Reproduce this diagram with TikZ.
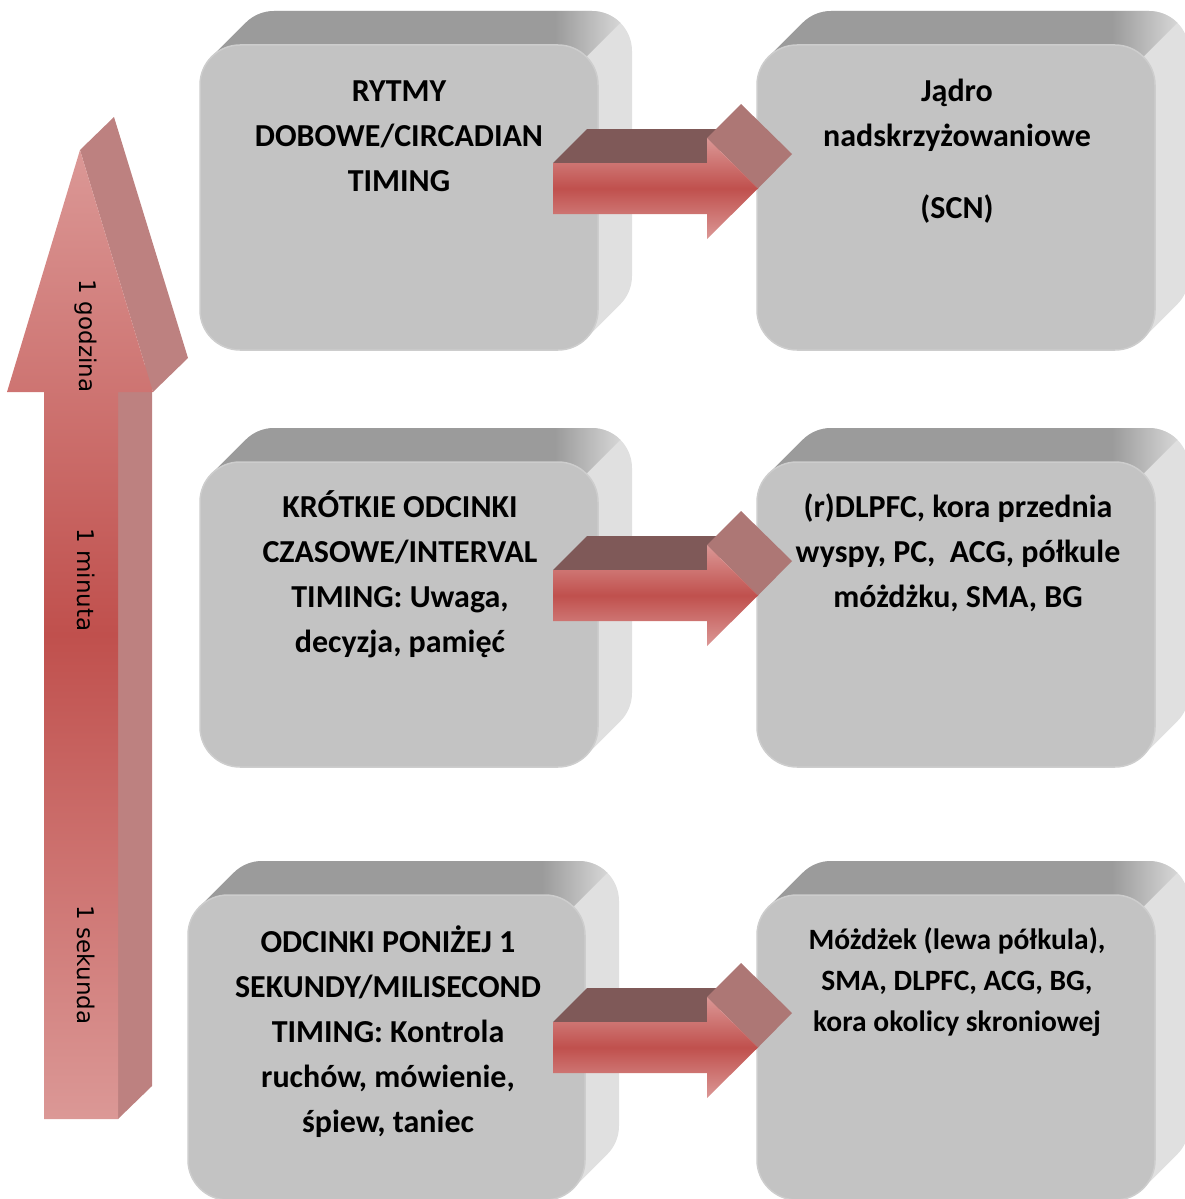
\documentclass[tikz,border=0pt]{standalone}
\usepackage{fontspec}
\setmainfont{Carlito}
\newfontfamily\labelfont{DejaVu Sans}

\definecolor{frontgray}{HTML}{C3C3C3}
\definecolor{sidegray}{HTML}{E0E0E0}
\definecolor{topdark}{HTML}{9B9B9B}
\definecolor{toplight}{HTML}{D6D6D6}
\definecolor{rimgray}{HTML}{CDCDCD}
\definecolor{arrowpink}{HTML}{DB9896}
\definecolor{arrowred}{HTML}{C0504D}
\definecolor{arrowtop}{HTML}{7F5958}
\definecolor{arrowhead}{HTML}{AD7775}
\definecolor{bigside}{HTML}{BD8180}

% top face of a box: dark, lightening over the rounded corner
\pgfdeclarehorizontalshading{boxtop}{100bp}{color(0bp)=(topdark); color(25bp)=(topdark); color(67bp)=(topdark); color(75bp)=(toplight); color(100bp)=(toplight)}

% corner radius, extrusion depth and the 45-degree tangent offsets
\def\rr{40}
\def\dd{34}
\def\kk{11.716}

% extruded rounded box: #1 name, #2 left, #3 top, #4 right, #5 bottom (front face)
\newcommand\extrudedbox[5]{%
  \fill[sidegray] ({#2+\kk+\dd},{#3+\kk-\dd}) arc[start angle=225,end angle=270,radius=\rr]
    -- ({#4-\rr+\dd},{#3-\dd}) arc[start angle=270,end angle=360,radius=\rr]
    -- ({#4+\dd},{#5-\rr-\dd}) arc[start angle=0,end angle=45,radius=\rr]
    -- ({#4-\kk},{#5-\kk}) arc[start angle=45,end angle=90,radius=\rr]
    -- ({#2+\rr},{#5}) arc[start angle=90,end angle=180,radius=\rr]
    -- ({#2},{#3+\rr}) arc[start angle=180,end angle=225,radius=\rr] -- cycle;
  \shade[shading=boxtop] ({#2+\kk},{#3+\kk}) arc[start angle=225,end angle=270,radius=\rr]
    -- ({#4-\rr},{#3}) arc[start angle=270,end angle=315,radius=\rr]
    -- ++(\dd,-\dd) arc[start angle=315,end angle=270,radius=\rr]
    -- ({#2+\rr+\dd},{#3-\dd}) arc[start angle=270,end angle=225,radius=\rr] -- cycle;
  \draw[rimgray, line width=1.5pt, fill=frontgray, rounded corners=40pt]
    (#2,#3) rectangle (#4,#5);
  \coordinate (#1) at ({(#2+#4)/2},{(#3+#5)/2});
}

% shading of the arrow fronts: pink edges, red middle
\tikzset{redfront/.style={top color=arrowpink, bottom color=arrowpink, middle color=arrowred}}

% 3-D block arrow between the two columns: #1 name, #2 vertical offset
\newcommand\blockarrow[2]{%
  \fill[arrowtop] (553,{163+#2}) -- (587,{129+#2}) -- (741,{129+#2}) -- (707,{163+#2}) -- cycle;
  \fill[arrowhead] (707,{138+#2}) -- (741,{104+#2}) -- (792,{154+#2}) -- (758,{188.5+#2}) -- cycle;
  \shade[redfront]
    (553,{163+#2}) -- (707,{163+#2}) -- (707,{138+#2}) -- (758,{188.5+#2})
    -- (707,{239+#2}) -- (707,{214+#2}) -- (553,{214+#2}) -- cycle;
  \coordinate (#1) at (758,{188.5+#2});
}

\newcommand\boxtext[1]{\begin{tabular}[t]{@{}c@{}}#1\end{tabular}}

\tikzset{
  boxlabel/.style={inner sep=0pt, anchor=base, text=black,
    font=\bfseries\fontsize{32}{45}\selectfont},
  smalllabel/.style={boxlabel, font=\bfseries\fontsize{29.5}{41}\selectfont},
  scalelabel/.style={inner sep=0pt, rotate=-90, text=black,
    font=\labelfont\fontsize{23}{28}\selectfont},
}

\begin{document}
\begin{tikzpicture}[x=1pt,y=1pt]
\begin{scope}[yscale=-1]
\useasboundingbox (0,0) rectangle (1185,1199);
\clip (0,0) rectangle (1185,1199);

% boxes
\extrudedbox{circ}{200}{45}{598}{350}
\extrudedbox{scn}{757}{45}{1155}{350}
\extrudedbox{interval}{200}{462}{598}{767}
\extrudedbox{cortex}{757}{462}{1155}{767}
\extrudedbox{milli}{188}{895}{585}{1200}
\extrudedbox{cereb}{757}{895}{1155}{1200}

% arrows from the timing scales to the brain structures
\blockarrow{a1}{0}
\blockarrow{a2}{407}
\blockarrow{a3}{859}

% time-scale arrow on the left
\fill[bigside] (118,392) -- (152,359) -- (152,1086) -- (118,1119) -- cycle;
\fill[bigside] (80,150) -- (114,117) -- (188,358) -- (153,392) -- cycle;
\shade[redfront]
  (44,1119) -- (118,1119) -- (118,392) -- (153,392) -- (80,150) -- (7,392) -- (44,392) -- cycle;

\node[scalelabel] (hour) at (86,336) {1 godzina};
\node[scalelabel] (minute) at (86,580) {1 minuta};
\node[scalelabel] (second) at (86,965) {1 sekunda};

% box texts
\node[boxlabel] (t-circ) at (399,101)
  {\boxtext{RYTMY\\DOBOWE/CIRCADIAN\\TIMING}};
\node[boxlabel] (t-scn) at (957,101)
  {\boxtext{Jądro\\nadskrzyżowaniowe\\[27pt](SCN)}};
\node[boxlabel] (t-interval) at (400,517)
  {\boxtext{KRÓTKIE ODCINKI\\CZASOWE/INTERVAL\\TIMING: Uwaga,\\decyzja, pamięć}};
\node[boxlabel] (t-cortex) at (958,517)
  {\boxtext{(r)DLPFC, kora przednia\\wyspy, PC,~ ACG, półkule\\móżdżku, SMA, BG}};
\node[boxlabel] (t-milli) at (388,952)
  {\boxtext{ODCINKI PONIŻEJ 1\\SEKUNDY/MILISECOND\\TIMING: Kontrola\\ruchów, mówienie,\\śpiew, taniec}};
\node[smalllabel] (t-cereb) at (957,949)
  {\boxtext{Móżdżek (lewa półkula),\\SMA, DLPFC, ACG, BG,\\kora okolicy skroniowej}};
\end{scope}
\end{tikzpicture}
\end{document}
